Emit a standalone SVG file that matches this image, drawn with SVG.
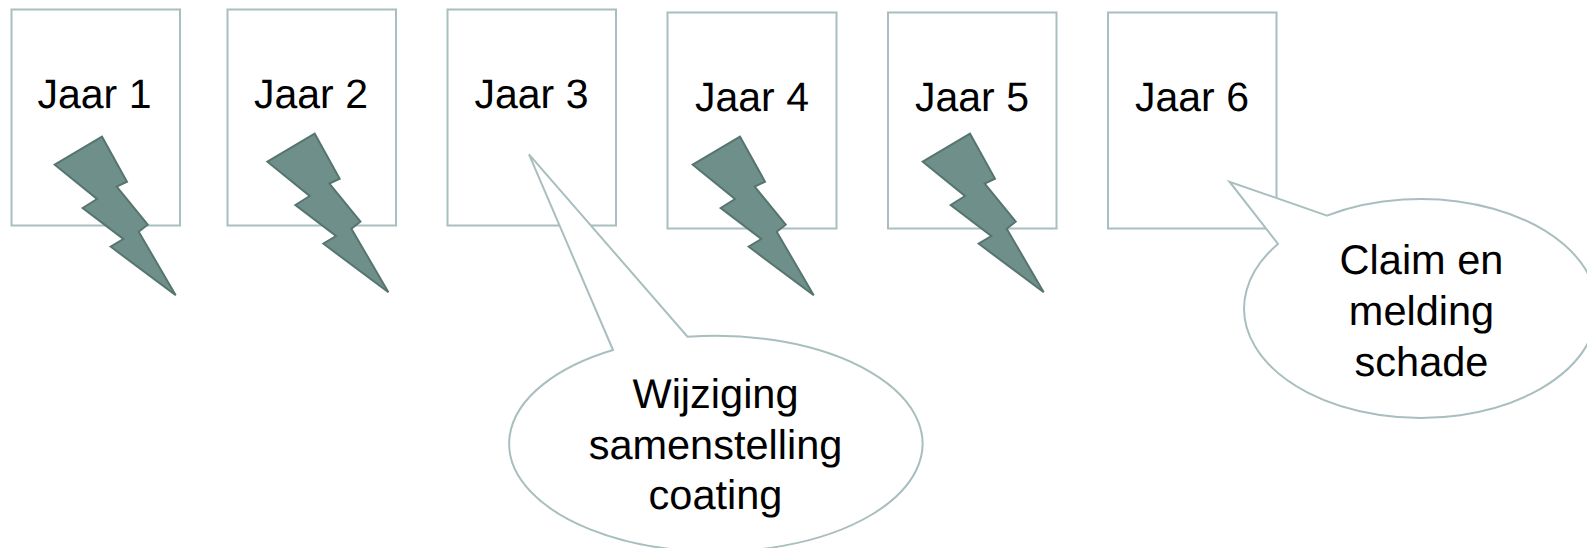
<svg xmlns="http://www.w3.org/2000/svg" width="1587" height="548" viewBox="0 0 1587 548">
<style>
.box{fill:#fff;stroke:#a9bebe;stroke-width:2}
.bolt{fill:#6f8f8b;stroke:#56756f;stroke-width:2;stroke-linejoin:miter}
.call{fill:#fff;stroke:#a9bebe;stroke-width:2}
text{font-family:"Liberation Sans",Arial,sans-serif;font-size:41px;fill:#000;text-anchor:middle;text-rendering:geometricPrecision}
.big{font-size:41.5px}
</style>
<defs>
<polygon id="bolt" class="bolt" points="102,136.7 54.7,164.7 97,199 82.7,208 123.3,239 110.7,246.7 175.7,295.3 138.7,231.7 147.7,224.7 116.7,186.7 127,181.7"/>
</defs>
<rect width="1587" height="548" fill="#fff"/>
<g id="jaar1"><rect class="box" x="11.5" y="9.5" width="168.5" height="216"/><text x="94.5" y="108">Jaar 1</text></g>
<g id="jaar2"><rect class="box" x="227.5" y="9.5" width="168.5" height="216"/><text x="311" y="108">Jaar 2</text></g>
<g id="jaar3"><rect class="box" x="447.5" y="9.5" width="168.5" height="216"/><text x="531.5" y="108">Jaar 3</text></g>
<g id="jaar4"><rect class="box" x="667.5" y="12.5" width="169" height="216"/><text x="752" y="111">Jaar 4</text></g>
<g id="jaar5"><rect class="box" x="888" y="12.5" width="168.5" height="216"/><text x="972" y="111">Jaar 5</text></g>
<g id="jaar6"><rect class="box" x="1108" y="12.5" width="168.5" height="216"/><text x="1192" y="111">Jaar 6</text></g>
<g id="bolts">
<use id="bolt1" href="#bolt"/>
<use id="bolt2" href="#bolt" x="212.7" y="-3"/>
<use id="bolt4" href="#bolt" x="638" y="0"/>
<use id="bolt5" href="#bolt" x="868" y="-3"/>
</g>
<g id="callout-wijziging">
<path class="call" d="M613,350 L529,154.3 L687.5,336.7 A206.7,108 0 1 1 613,350 Z"/>
<text class="big" x="715.5" y="408">Wijziging</text>
<text class="big" x="715.5" y="459">samenstelling</text>
<text class="big" x="715.5" y="509">coating</text>
</g>
<g id="callout-claim">
<path class="call" d="M1327,215.6 L1229.5,181.7 L1278,243.9 A176.5,109.5 0 1 0 1327,215.6 Z"/>
<text class="big" x="1421.5" y="274">Claim en</text>
<text class="big" x="1421.5" y="325">melding</text>
<text class="big" x="1421.5" y="375.5">schade</text>
</g>
</svg>
